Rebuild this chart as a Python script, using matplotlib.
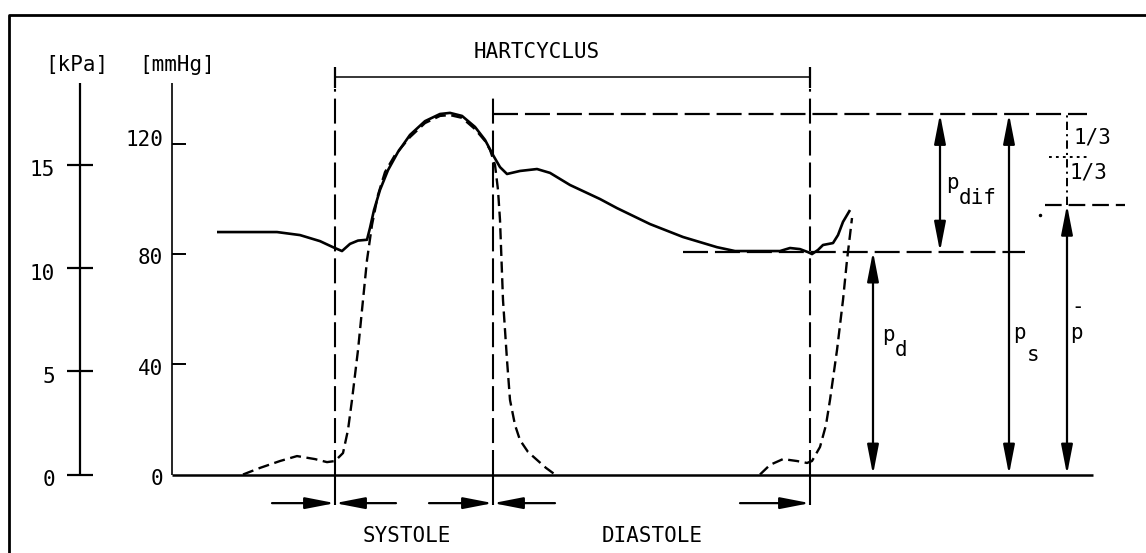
import matplotlib.pyplot as plt
from matplotlib.patches import FancyArrowPatch

plt.rcParams['font.family'] = ['DejaVu Sans Mono', 'DejaVu Sans']
plt.rcParams['lines.scale_dashes'] = False
plt.rcParams['lines.solid_capstyle'] = 'butt'

# time axis in arbitrary units (as drawn), pressure in mmHg
t_aorta = [217, 277, 300, 320, 333, 342, 350, 358, 367, 370, 374, 380, 388, 398,
           410, 425, 440, 450, 462, 475, 485, 493, 500, 507, 520, 537, 550, 570,
           600, 617, 650, 683, 717, 735, 780, 790, 800, 808, 812, 818, 823, 833,
           838, 843, 850]
p_aorta = [88.1, 88.1, 87.0, 84.8, 82.6, 81.2, 83.8, 85.0, 85.3, 89.6, 96.1, 103.4,
           110.6, 117.2, 123.4, 128.4, 131.0, 131.4, 130.3, 126.3, 121.6, 116.1,
           111.7, 109.2, 110.3, 111.0, 109.6, 105.2, 100.1, 96.8, 91.0, 86.3, 82.6,
           81.2, 81.2, 82.3, 81.9, 80.8, 80.1, 81.6, 83.4, 84.1, 87.0, 91.8, 96.1]

# left ventricle pressure, first beat
t_vent1 = [243, 260, 280, 297, 315, 327, 335, 343, 348, 352, 358, 363, 367, 372,
           378, 385, 395, 410, 425, 440, 450, 462, 475, 485, 490, 495, 498, 500,
           503, 507, 510, 515, 520, 528, 537, 546, 555]
p_vent1 = [0, 2.4, 4.9, 6.7, 5.6, 4.5, 4.9, 7.8, 16.2, 27.1, 45.2, 63.4, 77.9, 90.7,
           101.6, 109.9, 116.1, 122.6, 127.7, 130.3, 130.6, 129.6, 125.5, 121.2,
           118.0, 112.5, 103.4, 92.5, 63.4, 41.6, 27.1, 18.0, 12.5, 8.2, 5.3, 2.4, 0]

# left ventricle pressure, start of next beat
t_vent2 = [760, 770, 783, 797, 807, 812, 820, 826, 830, 837, 843, 847, 850, 852]
p_vent2 = [0, 3.5, 5.6, 4.9, 4.2, 4.9, 10.0, 18.0, 27.1, 45.2, 63.4, 77.9, 87.0, 93.2]

# phase marks
t_sys_start = 335
t_sys_end = 493
t_cycle_end = 810

# pressure levels
p_sys = 131
p_dia = 81
p_mean = 98
p_third = 115.5

mmhg_ticks = [0, 40, 80, 120]
kpa_ticks = [0, 5, 10, 15]
KPA = 7.50062

W, H = 1146, 553
fig = plt.figure(figsize=(W / 100, H / 100), dpi=100)
ax = fig.add_axes([0, 0, 1, 1])
ax.set_xlim(0, W)
ax.set_ylim(-28.52, 172.42)
ax.axis('off')

k = 'black'
fs = 15

# frame (left and top edge only)
fx0, fy1 = 9 / W, 1 - 15 / H
ax.plot([fx0, fx0, 1.0], [0, fy1, fy1], color=k, lw=2.0,
        transform=ax.transAxes, clip_on=False)

# kPa axis
ax.plot([80, 80], [0, 142.3], color=k, lw=1.6)
for v in kpa_ticks:
    ax.plot([67, 93], [v * KPA, v * KPA], color=k, lw=1.6)
    ax.text(55, v * KPA - 2.0, str(v), ha='right', va='center', fontsize=fs)
ax.text(77, 148.8, '[kPa]', ha='center', va='center', fontsize=fs)

# mmHg axis
ax.plot([172, 172], [0, 142.3], color=k, lw=1.2)
for v in mmhg_ticks:
    if v > 0:
        ax.plot([172, 186], [v, v], color=k, lw=1.4)
    ax.text(163, v + (1.5 if v == 120 else -1.5), str(v), ha='right', va='center',
            fontsize=fs)
ax.text(177, 148.8, '[mmHg]', ha='center', va='center', fontsize=fs)

# baseline
ax.plot([172, 1093], [0, 0], color=k, lw=1.8)

# curves
ax.plot(t_aorta, p_aorta, color=k, lw=1.9, solid_joinstyle='round')
ax.plot(t_vent1, p_vent1, color=k, lw=1.7, ls=(0, (8, 4)))
ax.plot(t_vent2, p_vent2, color=k, lw=1.7, ls=(0, (8, 4)))

# vertical phase lines
long_dash = (0, (18, 5))
ax.plot([t_sys_start, t_sys_start], [0, 140], color=k, lw=1.5, ls=long_dash)
ax.plot([t_sys_end, t_sys_end], [0, 138], color=k, lw=1.5, ls=long_dash)
ax.plot([t_cycle_end, t_cycle_end], [0, 140], color=k, lw=1.5, ls=long_dash)

# HARTCYCLUS bracket
ax.plot([t_sys_start, t_cycle_end], [144.4, 144.4], color=k, lw=1.1)
for t in (t_sys_start, t_cycle_end):
    ax.plot([t, t], [140.4, 148.1], color=k, lw=1.6)
ax.text(537, 153.5, 'HARTCYCLUS', ha='center', va='center', fontsize=fs)

# pressure level lines
ax.plot([t_sys_end, 1087], [p_sys, p_sys], color=k, lw=1.6, ls=long_dash)
ax.plot([683, 1025], [p_dia, p_dia], color=k, lw=1.6, ls=long_dash)
ax.plot([1045, 1125], [p_mean, p_mean], color=k, lw=1.6, ls=(0, (12, 5)))
ax.plot([1049, 1087], [p_third, p_third], color=k, lw=1.4, ls=(0, (2, 3)))
ax.plot([1067, 1067], [p_mean, p_sys], color=k, lw=1.4, ls=(0, (6, 3, 1.5, 3)))
ax.plot([1040], [94.3], marker='.', color=k, ms=3)
ax.text(1092, 122.6, '1/3', ha='center', va='center', fontsize=fs)
ax.text(1088, 109.9, '1/3', ha='center', va='center', fontsize=fs)


def arrow(x0, y0, x1, y1, style):
    a = FancyArrowPatch((x0, y0), (x1, y1),
                        arrowstyle=style + ',head_length=18,head_width=3.5',
                        mutation_scale=1, lw=1.6, color=k,
                        shrinkA=0, shrinkB=0)
    ax.add_patch(a)


# pressure arrows
arrow(940, p_dia, 940, p_sys, '<|-|>')
arrow(1009, 0, 1009, p_sys, '<|-|>')
arrow(1067, 0, 1067, p_mean, '<|-|>')
arrow(873, 0, 873, p_dia, '<|-|>')

ax.text(952, 105.9, 'p', ha='center', va='center', fontsize=fs)
ax.text(978, 100.5, 'dif', ha='center', va='center', fontsize=fs)
ax.text(888, 50.7, 'p', ha='center', va='center', fontsize=fs)
ax.text(901, 45.2, 'd', ha='center', va='center', fontsize=fs)
ax.text(1019, 51.4, 'p', ha='center', va='center', fontsize=fs)
ax.text(1033, 43.4, 's', ha='center', va='center', fontsize=fs)
ax.text(1076, 51.4, 'p', ha='center', va='center', fontsize=fs)
ax.text(1078, 60.9, '-', ha='center', va='center', fontsize=fs)

# phase timing arrows below the baseline
y_arr = -10.4
for t in (t_sys_start, t_sys_end, t_cycle_end):
    ax.plot([t, t], [0, -11.1], color=k, lw=1.5)
arrow(272, y_arr, t_sys_start, y_arr, '-|>')
arrow(396, y_arr, t_sys_start, y_arr, '-|>')
arrow(429, y_arr, t_sys_end, y_arr, '-|>')
arrow(555, y_arr, t_sys_end, y_arr, '-|>')
arrow(740, y_arr, t_cycle_end, y_arr, '-|>')

ax.text(407, -22.3, 'SYSTOLE', ha='center', va='center', fontsize=fs)
ax.text(652, -22.3, 'DIASTOLE', ha='center', va='center', fontsize=fs)

fig.savefig('out.png', dpi=100, facecolor='white')
